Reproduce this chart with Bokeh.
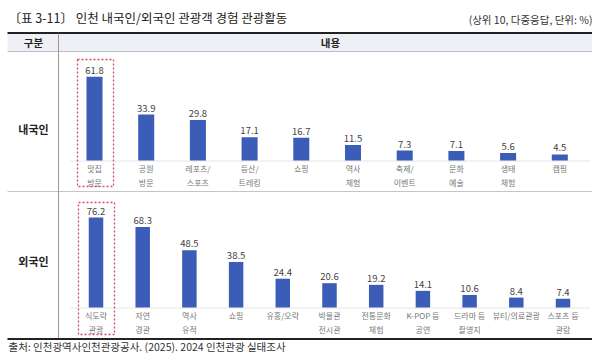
from bokeh.plotting import figure
from bokeh.models import Range1d, ColumnDataSource
from bokeh.core.properties import value
from bokeh.embed import file_html
from bokeh.resources import INLINE

# ---------------- data ----------------
title_text = "〔표 3-11〕 인천 내국인/외국인 관광객 경험 관광활동"
note_text = "(상위 10, 다중응답, 단위: %)"
source_text = "출처: 인천광역사인천관광공사. (2025). 2024 인천관광 실태조사"
header_left = "구분"
header_right = "내용"
row_names = ["내국인", "외국인"]

dom_cats = ["맛집\n방문", "공원\n방문", "레포츠/\n스포츠", "등산/\n트레킹", "쇼핑",
            "역사\n체험", "축제/\n이벤트", "문화\n예술", "생태\n체험", "캠핑"]
dom_vals = [61.8, 33.9, 29.8, 17.1, 16.7, 11.5, 7.3, 7.1, 5.6, 4.5]

for_cats = ["식도락\n관광", "자연\n경관", "역사\n유적", "쇼핑", "유흥/오락",
            "박물관\n전시관", "전통문화\n체험", "K-POP 등\n공연", "드라마 등\n촬영지",
            "뷰티/의료관광", "스포츠 등\n관람"]
for_vals = [76.2, 68.3, 48.5, 38.5, 24.4, 20.6, 19.2, 14.1, 10.6, 8.4, 7.4]

# ---------------- layout params (picture pixels) ----------------
W, H = 592, 353
X0, X1, Y0, Y1 = 0, W, 0, H
FONT = value("Noto Sans CJK KR")
BAR = "#3b5db8"

p = figure(width=W, height=H, output_backend="svg", toolbar_location=None,
           x_range=Range1d(X0, X1), y_range=Range1d(Y1, Y0),
           x_axis_location=None, y_axis_location=None, min_border=0,
           outline_line_color=None, background_fill_color="white")
p.grid.visible = False


def ranges(first_center, spacing, baseline, k):
    xr = Range1d(-(first_center - X0) / spacing, (X1 - first_center) / spacing)
    yr = Range1d(-(Y1 - baseline) / k, (baseline - Y0) / k)
    return xr, yr


dx, dy = ranges(94, 51.7, 160, 1.355)
fx, fy = ranges(95.5, 46.7, 307, 1.18)
p.extra_x_ranges = {"dom": dx, "for": fx}
p.extra_y_ranges = {"dom": dy, "for": fy}

# ---------------- table decoration ----------------
p.quad(left=7, right=592, top=33, bottom=51, fill_color="#eef0f5", line_color=None)
p.segment(x0=[7], y0=[32.5], x1=[592], y1=[32.5], line_color="#222222", line_width=2)
p.segment(x0=[7], y0=[51], x1=[592], y1=[51], line_color="#b8bcc4", line_width=1)
p.segment(x0=[7], y0=[191], x1=[592], y1=[191], line_color="#c4c4c4", line_width=1)
p.segment(x0=[58], y0=[33], x1=[58], y1=[338], line_color="#9a9a9a", line_width=1)
p.segment(x0=[7], y0=[338.5], x1=[592], y1=[338.5], line_color="#222222", line_width=2)

p.text(x=[8], y=[17], text=[title_text], text_font=FONT, text_font_size="12.5px",
       text_color="#222222", text_baseline="middle", text_align="left")
p.text(x=[592], y=[19], text=[note_text], text_font=FONT, text_font_size="10.5px",
       text_color="#333333", text_baseline="middle", text_align="right")
p.text(x=[33, 330], y=[42, 42], text=[header_left, header_right], text_font=FONT,
       text_font_size="10.5px", text_font_style="bold", text_color="#222222",
       text_baseline="middle", text_align="center")
p.text(x=[33, 33], y=[128, 260], text=row_names, text_font=FONT,
       text_font_size="11px", text_font_style="bold", text_color="#222222",
       text_baseline="middle", text_align="center")
p.text(x=[8], y=[346], text=[source_text], text_font=FONT, text_font_size="10.5px",
       text_color="#333333", text_baseline="middle", text_align="left")

# baselines
p.segment(x0=[70, 70], y0=[160.5, 307.5], x1=[590, 590], y1=[160.5, 307.5],
          line_color="#e6e6e6", line_width=1)

# highlight boxes
p.quad(left=[77, 78], right=[113, 114], top=[59, 202], bottom=[186, 334],
       fill_color=None, line_color="#d0506a", line_dash="2 2", line_width=1.3)


# ---------------- bars ----------------
def draw(cats, vals, name, width):
    src = ColumnDataSource(dict(x=list(range(len(vals))), top=vals,
                                lab=[f"{v:.1f}" for v in vals], cat=cats,
                                zero=[0] * len(vals)))
    p.vbar(x="x", top="top", bottom=0, width=width, source=src, fill_color=BAR,
           line_color=None, x_range_name=name, y_range_name=name)
    p.text(x="x", y="top", text="lab", source=src, x_range_name=name, y_range_name=name,
           text_font=FONT, text_font_size="9.5px", text_color="#444444",
           text_align="center", text_baseline="bottom", y_offset=-3)
    p.text(x="x", y="zero", text="cat", source=src, x_range_name=name, y_range_name=name,
           text_font=FONT, text_font_size="8px", text_color="#777777",
           text_align="center", text_baseline="top", y_offset=2, text_line_height=1.35)


draw(dom_cats, dom_vals, "dom", 0.31)
draw(for_cats, for_vals, "for", 0.31)

open("out.html", "w").write(file_html(p, INLINE))
